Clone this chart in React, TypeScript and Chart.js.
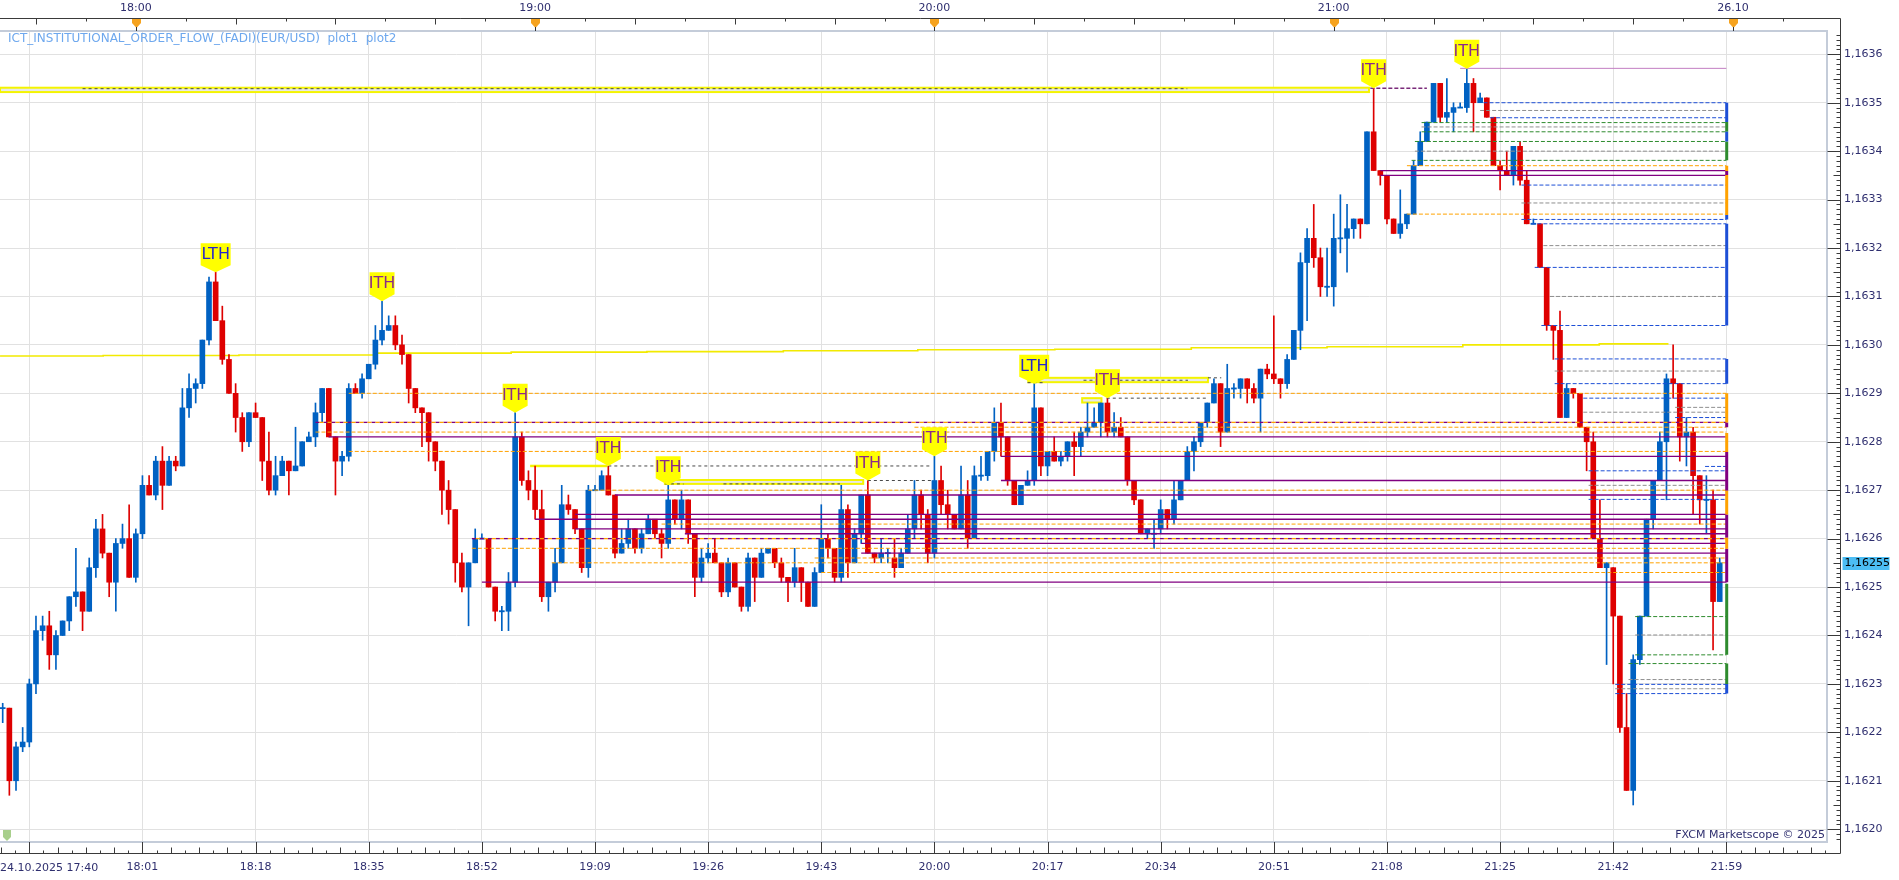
import React, { useEffect, useRef } from 'react';
import { Chart, registerables } from 'chart.js';

Chart.register(...registerables);

// ---------------- DATA ----------------
// EUR/USD 1-minute candles, 24.10.2025 17:40 (index 0) .. 21:58 (index 258)
const opens = [
  1.16225, 1.16225, 1.16210, 1.16217, 1.16218, 1.16230, 1.16241, 1.16242, 1.16236, 1.16240,
  1.16243, 1.16248, 1.16249, 1.16245, 1.16254, 1.16262, 1.16257, 1.16251, 1.16259, 1.16260,
  1.16252, 1.16261, 1.16271, 1.16269, 1.16276, 1.16271, 1.16276, 1.16275, 1.16287, 1.16291,
  1.16292, 1.16301, 1.16313, 1.16305, 1.16297, 1.16290, 1.16285, 1.16280, 1.16286, 1.16285,
  1.16276, 1.16270, 1.16273, 1.16276, 1.16274, 1.16275, 1.16280, 1.16281, 1.16286, 1.16291,
  1.16281, 1.16276, 1.16277, 1.16291, 1.16290, 1.16293, 1.16296, 1.16301, 1.16303, 1.16304,
  1.16300, 1.16298, 1.16291, 1.16287, 1.16286, 1.16280, 1.16276, 1.16270, 1.16266, 1.16255,
  1.16250, 1.16255, 1.16260, 1.16260, 1.16250, 1.16245, 1.16245, 1.16251, 1.16281, 1.16272,
  1.16270, 1.16266, 1.16248, 1.16251, 1.16255, 1.16267, 1.16266, 1.16262, 1.16254, 1.16270,
  1.16270, 1.16273, 1.16269, 1.16257, 1.16259, 1.16262, 1.16258, 1.16261, 1.16264, 1.16261,
  1.16259, 1.16268, 1.16264, 1.16268, 1.16261, 1.16252, 1.16256, 1.16257, 1.16255, 1.16249,
  1.16255, 1.16250, 1.16246, 1.16256, 1.16252, 1.16257, 1.16258, 1.16255, 1.16252, 1.16251,
  1.16254, 1.16251, 1.16246, 1.16253, 1.16260, 1.16258, 1.16252, 1.16266, 1.16255, 1.16261,
  1.16269, 1.16257, 1.16256, 1.16257, 1.16256, 1.16254, 1.16257, 1.16262, 1.16269, 1.16265,
  1.16257, 1.16272, 1.16267, 1.16265, 1.16262, 1.16269, 1.16260, 1.16273, 1.16273, 1.16278,
  1.16284, 1.16281, 1.16272, 1.16267, 1.16271, 1.16272, 1.16287, 1.16275, 1.16278, 1.16276,
  1.16277, 1.16280, 1.16279, 1.16282, 1.16283, 1.16284, 1.16288, 1.16282, 1.16283, 1.16281,
  1.16272, 1.16268, 1.16261, 1.16261, 1.16262, 1.16266, 1.16264, 1.16268, 1.16272, 1.16278,
  1.16280, 1.16284, 1.16288, 1.16292, 1.16282, 1.16291, 1.16291, 1.16293, 1.16291, 1.16289,
  1.16295, 1.16294, 1.16293, 1.16292, 1.16297, 1.16303, 1.16317, 1.16322, 1.16318, 1.16312,
  1.16312, 1.16322, 1.16322, 1.16324, 1.16326, 1.16325, 1.16344, 1.16336, 1.16335, 1.16326,
  1.16323, 1.16325, 1.16327, 1.16337, 1.16342, 1.16346, 1.16354, 1.16347, 1.16348, 1.16349,
  1.16349, 1.16354, 1.16350, 1.16351, 1.16347, 1.16337, 1.16336, 1.16335, 1.16341, 1.16334,
  1.16325, 1.16325, 1.16316, 1.16304, 1.16303, 1.16285, 1.16291, 1.16290, 1.16283, 1.16280,
  1.16260, 1.16254, 1.16254, 1.16244, 1.16221, 1.16208, 1.16235, 1.16244, 1.16264, 1.16272,
  1.16280, 1.16293, 1.16292, 1.16281, 1.16282, 1.16273, 1.16268, 1.16268, 1.16247,
];
const highs = [
  1.16226, 1.16225, 1.16218, 1.16221, 1.16231, 1.16244, 1.16244, 1.16245, 1.16241, 1.16243,
  1.16248, 1.16258, 1.16249, 1.16256, 1.16264, 1.16265, 1.16257, 1.16260, 1.16263, 1.16267,
  1.16262, 1.16273, 1.16273, 1.16277, 1.16279, 1.16277, 1.16277, 1.16291, 1.16294, 1.16293,
  1.16301, 1.16314, 1.16315, 1.16308, 1.16298, 1.16292, 1.16286, 1.16286, 1.16288, 1.16285,
  1.16282, 1.16277, 1.16277, 1.16276, 1.16283, 1.16280, 1.16282, 1.16288, 1.16291, 1.16291,
  1.16281, 1.16278, 1.16292, 1.16292, 1.16294, 1.16296, 1.16304, 1.16309, 1.16306, 1.16306,
  1.16302, 1.16298, 1.16291, 1.16287, 1.16286, 1.16280, 1.16276, 1.16272, 1.16266, 1.16257,
  1.16255, 1.16262, 1.16261, 1.16260, 1.16250, 1.16246, 1.16253, 1.16286, 1.16282, 1.16274,
  1.16275, 1.16270, 1.16251, 1.16258, 1.16271, 1.16269, 1.16266, 1.16262, 1.16271, 1.16271,
  1.16274, 1.16275, 1.16269, 1.16262, 1.16264, 1.16262, 1.16262, 1.16265, 1.16264, 1.16262,
  1.16271, 1.16268, 1.16270, 1.16268, 1.16261, 1.16258, 1.16259, 1.16260, 1.16255, 1.16256,
  1.16255, 1.16250, 1.16257, 1.16256, 1.16258, 1.16258, 1.16258, 1.16256, 1.16252, 1.16258,
  1.16254, 1.16251, 1.16254, 1.16267, 1.16261, 1.16258, 1.16271, 1.16267, 1.16262, 1.16269,
  1.16272, 1.16257, 1.16260, 1.16258, 1.16260, 1.16258, 1.16265, 1.16272, 1.16270, 1.16266,
  1.16277, 1.16275, 1.16270, 1.16265, 1.16275, 1.16272, 1.16275, 1.16277, 1.16278, 1.16287,
  1.16288, 1.16281, 1.16272, 1.16271, 1.16274, 1.16292, 1.16287, 1.16278, 1.16281, 1.16278,
  1.16280, 1.16282, 1.16283, 1.16288, 1.16287, 1.16288, 1.16289, 1.16286, 1.16285, 1.16281,
  1.16272, 1.16268, 1.16262, 1.16264, 1.16268, 1.16266, 1.16272, 1.16272, 1.16279, 1.16281,
  1.16284, 1.16288, 1.16293, 1.16292, 1.16296, 1.16292, 1.16293, 1.16293, 1.16292, 1.16295,
  1.16296, 1.16306, 1.16293, 1.16298, 1.16303, 1.16319, 1.16324, 1.16329, 1.16320, 1.16320,
  1.16327, 1.16331, 1.16329, 1.16326, 1.16326, 1.16344, 1.16353, 1.16336, 1.16335, 1.16326,
  1.16332, 1.16327, 1.16338, 1.16344, 1.16346, 1.16354, 1.16354, 1.16355, 1.16350, 1.16350,
  1.16357, 1.16355, 1.16352, 1.16351, 1.16347, 1.16338, 1.16340, 1.16341, 1.16342, 1.16336,
  1.16326, 1.16325, 1.16316, 1.16304, 1.16307, 1.16292, 1.16291, 1.16290, 1.16283, 1.16282,
  1.16268, 1.16255, 1.16254, 1.16244, 1.16228, 1.16236, 1.16244, 1.16264, 1.16272, 1.16282,
  1.16294, 1.16300, 1.16292, 1.16285, 1.16283, 1.16273, 1.16273, 1.16270, 1.16256,
];
const lows = [
  1.16222, 1.16207, 1.16208, 1.16216, 1.16217, 1.16228, 1.16239, 1.16233, 1.16233, 1.16240,
  1.16241, 1.16246, 1.16241, 1.16245, 1.16252, 1.16256, 1.16248, 1.16245, 1.16258, 1.16252,
  1.16251, 1.16260, 1.16269, 1.16268, 1.16266, 1.16271, 1.16274, 1.16275, 1.16285, 1.16288,
  1.16291, 1.16300, 1.16305, 1.16296, 1.16290, 1.16282, 1.16278, 1.16279, 1.16285, 1.16272,
  1.16269, 1.16269, 1.16273, 1.16269, 1.16274, 1.16275, 1.16280, 1.16279, 1.16284, 1.16281,
  1.16269, 1.16273, 1.16276, 1.16290, 1.16289, 1.16293, 1.16295, 1.16300, 1.16303, 1.16299,
  1.16296, 1.16288, 1.16286, 1.16279, 1.16276, 1.16274, 1.16265, 1.16263, 1.16251, 1.16249,
  1.16242, 1.16255, 1.16260, 1.16250, 1.16243, 1.16241, 1.16241, 1.16250, 1.16271, 1.16268,
  1.16264, 1.16247, 1.16245, 1.16249, 1.16255, 1.16265, 1.16261, 1.16253, 1.16252, 1.16270,
  1.16270, 1.16269, 1.16256, 1.16257, 1.16258, 1.16257, 1.16257, 1.16261, 1.16260, 1.16256,
  1.16258, 1.16263, 1.16262, 1.16259, 1.16248, 1.16251, 1.16255, 1.16255, 1.16248, 1.16248,
  1.16250, 1.16245, 1.16245, 1.16247, 1.16252, 1.16257, 1.16254, 1.16251, 1.16247, 1.16250,
  1.16247, 1.16246, 1.16246, 1.16253, 1.16256, 1.16251, 1.16251, 1.16252, 1.16255, 1.16259,
  1.16257, 1.16255, 1.16255, 1.16255, 1.16252, 1.16254, 1.16257, 1.16260, 1.16262, 1.16255,
  1.16256, 1.16265, 1.16262, 1.16262, 1.16262, 1.16258, 1.16260, 1.16272, 1.16272, 1.16276,
  1.16277, 1.16271, 1.16267, 1.16267, 1.16271, 1.16271, 1.16273, 1.16273, 1.16276, 1.16275,
  1.16276, 1.16273, 1.16277, 1.16281, 1.16283, 1.16281, 1.16281, 1.16281, 1.16281, 1.16271,
  1.16267, 1.16261, 1.16260, 1.16258, 1.16261, 1.16262, 1.16263, 1.16268, 1.16272, 1.16274,
  1.16279, 1.16283, 1.16288, 1.16279, 1.16282, 1.16289, 1.16289, 1.16288, 1.16288, 1.16282,
  1.16293, 1.16292, 1.16289, 1.16291, 1.16297, 1.16299, 1.16305, 1.16316, 1.16310, 1.16310,
  1.16308, 1.16319, 1.16315, 1.16322, 1.16322, 1.16325, 1.16336, 1.16333, 1.16325, 1.16323,
  1.16322, 1.16324, 1.16327, 1.16337, 1.16342, 1.16346, 1.16346, 1.16346, 1.16344, 1.16349,
  1.16348, 1.16344, 1.16350, 1.16347, 1.16337, 1.16332, 1.16335, 1.16333, 1.16333, 1.16325,
  1.16325, 1.16316, 1.16303, 1.16297, 1.16285, 1.16285, 1.16289, 1.16283, 1.16274, 1.16260,
  1.16254, 1.16234, 1.16230, 1.16220, 1.16208, 1.16205, 1.16234, 1.16244, 1.16262, 1.16272,
  1.16268, 1.16289, 1.16276, 1.16275, 1.16265, 1.16263, 1.16261, 1.16237, 1.16247,
];
const closes = [
  1.16225, 1.16210, 1.16217, 1.16218, 1.16230, 1.16241, 1.16242, 1.16236, 1.16240, 1.16243,
  1.16248, 1.16249, 1.16245, 1.16254, 1.16262, 1.16257, 1.16251, 1.16259, 1.16260, 1.16252,
  1.16261, 1.16271, 1.16269, 1.16276, 1.16271, 1.16276, 1.16275, 1.16287, 1.16291, 1.16292,
  1.16301, 1.16313, 1.16305, 1.16297, 1.16290, 1.16285, 1.16280, 1.16286, 1.16285, 1.16276,
  1.16270, 1.16273, 1.16276, 1.16274, 1.16275, 1.16280, 1.16281, 1.16286, 1.16291, 1.16281,
  1.16276, 1.16277, 1.16291, 1.16290, 1.16293, 1.16296, 1.16301, 1.16303, 1.16304, 1.16300,
  1.16298, 1.16291, 1.16287, 1.16286, 1.16280, 1.16276, 1.16270, 1.16266, 1.16255, 1.16250,
  1.16255, 1.16260, 1.16260, 1.16250, 1.16245, 1.16245, 1.16251, 1.16281, 1.16272, 1.16270,
  1.16266, 1.16248, 1.16251, 1.16255, 1.16267, 1.16266, 1.16262, 1.16254, 1.16270, 1.16270,
  1.16273, 1.16269, 1.16257, 1.16259, 1.16262, 1.16258, 1.16261, 1.16264, 1.16261, 1.16259,
  1.16268, 1.16264, 1.16268, 1.16261, 1.16252, 1.16256, 1.16257, 1.16255, 1.16249, 1.16255,
  1.16250, 1.16246, 1.16256, 1.16252, 1.16257, 1.16258, 1.16255, 1.16252, 1.16251, 1.16254,
  1.16251, 1.16246, 1.16253, 1.16260, 1.16258, 1.16252, 1.16266, 1.16255, 1.16261, 1.16269,
  1.16257, 1.16256, 1.16257, 1.16257, 1.16254, 1.16257, 1.16262, 1.16269, 1.16265, 1.16257,
  1.16272, 1.16267, 1.16265, 1.16262, 1.16269, 1.16260, 1.16273, 1.16273, 1.16278, 1.16284,
  1.16281, 1.16272, 1.16267, 1.16271, 1.16272, 1.16287, 1.16275, 1.16278, 1.16276, 1.16277,
  1.16280, 1.16279, 1.16282, 1.16283, 1.16284, 1.16288, 1.16282, 1.16283, 1.16281, 1.16272,
  1.16268, 1.16261, 1.16262, 1.16261, 1.16266, 1.16264, 1.16268, 1.16272, 1.16278, 1.16280,
  1.16284, 1.16288, 1.16292, 1.16282, 1.16291, 1.16291, 1.16293, 1.16291, 1.16289, 1.16295,
  1.16294, 1.16293, 1.16292, 1.16297, 1.16303, 1.16317, 1.16322, 1.16318, 1.16312, 1.16312,
  1.16322, 1.16322, 1.16324, 1.16326, 1.16325, 1.16344, 1.16336, 1.16335, 1.16326, 1.16323,
  1.16325, 1.16327, 1.16337, 1.16342, 1.16346, 1.16354, 1.16347, 1.16348, 1.16349, 1.16349,
  1.16354, 1.16350, 1.16351, 1.16347, 1.16337, 1.16336, 1.16335, 1.16341, 1.16334, 1.16325,
  1.16325, 1.16316, 1.16304, 1.16303, 1.16285, 1.16291, 1.16290, 1.16283, 1.16280, 1.16260,
  1.16254, 1.16255, 1.16244, 1.16221, 1.16208, 1.16235, 1.16244, 1.16264, 1.16272, 1.16280,
  1.16293, 1.16292, 1.16281, 1.16282, 1.16273, 1.16268, 1.16268, 1.16247, 1.16255,
];

// axes
const bottomTickIdx = [4, 21, 38, 55, 72, 89, 106, 123, 140, 157, 174, 191, 208, 225, 242, 259];
const bottomTickLabels = ['', '18:01', '18:18', '18:35', '18:52', '19:09', '19:26', '19:43', '20:00', '20:17', '20:34', '20:51', '21:08', '21:25', '21:42', '21:59'];
const topTickIdx = [20, 80, 140, 200, 260];
const topTickLabels = ['18:00', '19:00', '20:00', '21:00', '26.10'];
const priceTicks = [1.1620, 1.1621, 1.1622, 1.1623, 1.1624, 1.1625, 1.1626, 1.1627, 1.1628, 1.1629, 1.1630, 1.1631, 1.1632, 1.1633, 1.1634, 1.1635, 1.1636];
const startLabel = '24.10.2025 17:40';
const indicatorTitle = 'ICT_INSTITUTIONAL_ORDER_FLOW_(FADI)(EUR/USD)  plot1  plot2';
const copyrightText = 'FXCM Marketscope © 2025';
const lastPrice = 1.16255;
const lastPriceLabel = '1,16255';

// ITH / LTH pivots (candle index)
const pivotIdx = [32, 57, 77, 91, 100, 130, 140, 155, 166, 206, 220];
const pivotKind = ['LTH', 'ITH', 'ITH', 'ITH', 'ITH', 'ITH', 'ITH', 'LTH', 'ITH', 'ITH', 'ITH'];

// levels: last candle index they reach
const LEVEL_END = 259;
// [start candle, price]
const orangeDashedLevels = [
  [52, 1.16290], [47, 1.16282], [137, 1.16283], [52, 1.16278], [88, 1.16270], [99, 1.16263],
  [70.5, 1.16258], [122, 1.16256], [82.5, 1.16255], [123, 1.16253], [211, 1.16337], [211, 1.16327],
];
const purpleSolidLevels = [
  [49, 1.16281], [150, 1.16277], [150, 1.16272], [92, 1.16269], [86, 1.16265], [80, 1.16264],
  [86, 1.16262], [102.5, 1.16261], [129, 1.16259], [129, 1.16257], [72, 1.16251], [207, 1.16336], [207, 1.16335],
];
const purpleDashedLevels = [[47, 1.16284], [70.5, 1.16260]];
const blueDashedLevels = [
  [222.5, 1.16350], [223.5, 1.163469], [228.2, 1.16333], [228.2, 1.163259], [229.7, 1.16325], [230.2, 1.16316],
  [231.2, 1.16304], [233.2, 1.162971], [233.2, 1.16292], [237.5, 1.16289], [251.3, 1.16285], [255.8, 1.162749],
  [238.3, 1.16274], [238.3, 1.162681], [242.3, 1.162299], [242.3, 1.16228],
];
const grayDashedLevels = [
  [222, 1.163484], [213.2, 1.16345], [212.2, 1.16340], [228.2, 1.163293], [231.5, 1.163205], [232.5, 1.16310],
  [233.2, 1.162946], [251.3, 1.162871], [237.5, 1.162861], [238.3, 1.16271], [245.3, 1.162401], [244.3, 1.162309], [242.3, 1.16229],
];
const greenDashedLevels = [
  [213.2, 1.163459], [213.2, 1.16344], [212.2, 1.16342], [211.7, 1.163381], [245.3, 1.162439], [245.3, 1.16236], [244.3, 1.162342],
];
const pinkLevels = [[219, 1.163571]];
// [start, end, price]
const darkDashedSegments = [
  [12, 178, 1.163529], [91, 139.5, 1.16275], [130, 139.5, 1.16272], [99.5, 102.3, 1.162713], [108.3, 125.8, 1.162713],
  [154, 156.6, 1.162922], [162.4, 178.1, 1.162927], [181.1, 183.1, 1.162932], [165.9, 181.1, 1.16289],
];
const purpleDashedSegments = [[205.5, 214, 1.16353]];
// yellow zones [start, end, top price, bottom price]
const yellowZones = [
  [-0.4, 205.3, 1.163531, 1.163522], [79.4, 90.7, 1.1627505, 1.1627495], [99.5, 129.3, 1.162721, 1.162713],
  [154.1, 181.1, 1.162932, 1.162923], [162.2, 165.1, 1.16289, 1.162881],
];
// yellow stepped line
const yellowStepIdx = [-0.4, 15.1, 35.5, 55.9, 76.4, 96.8, 117.3, 137.5, 158.1, 178.6, 199, 219.4, 239.9, 250.3];
const yellowStepPrice = [1.162977, 1.162978, 1.162979, 1.162983, 1.162985, 1.162986, 1.162988, 1.162990, 1.162991, 1.162994, 1.162996, 1.163000, 1.163002, 1.163002];
// right-edge bars [top price, bottom price]
const barsBlue = [[1.16350, 1.16346], [1.16344, 1.16342], [1.163268, 1.163259], [1.16325, 1.16304], [1.162971, 1.16292], [1.1623, 1.16228]];
const barsGreen = [[1.16346, 1.16344], [1.16342, 1.163381], [1.162507, 1.16236], [1.162342, 1.1623]];
const barsOrange = [[1.16337, 1.163359], [1.163351, 1.163268], [1.16290, 1.16284], [1.162818, 1.162779], [1.162699, 1.16265], [1.162602, 1.162579]];
const barsPurple = [[1.163359, 1.163351], [1.16284, 1.16283], [1.162779, 1.162699], [1.16265, 1.162602], [1.162579, 1.16251]];

// ---------------- STYLE ----------------
const FONT = '"DejaVu Sans", sans-serif';
const AXIS_TEXT = '#2f2f6f';
const UP = '#0061c2';
const DOWN = '#de0000';
const ORANGE = '#ffa200';
const PURPLE = '#800080';
const X_MIN = -0.4057;
const X_MAX = 273.97;
const Y_MIN = 1.16197357;
const Y_MAX = 1.16364811;

const overlayPlugin = {
  id: 'fxcmOverlay',
  beforeDraw(chart: any) {
    const { ctx, width, height } = chart;
    ctx.save();
    ctx.fillStyle = '#ffffff';
    ctx.fillRect(0, 0, width, height);
    ctx.restore();
  },
  beforeDatasetsDraw(chart: any) {
    const { ctx, chartArea: ca } = chart;
    const xs = chart.scales.x, ys = chart.scales.y;
    ctx.save();
    ctx.beginPath();
    ctx.rect(ca.left, ca.top, ca.width, ca.height);
    ctx.clip();
    yellowZones.forEach(([a, b, hi, lo]) => {
      const x1 = xs.getPixelForValue(a), x2 = xs.getPixelForValue(b);
      const y1 = ys.getPixelForValue(hi), y2 = ys.getPixelForValue(lo);
      ctx.fillStyle = '#e8e8e8';
      ctx.fillRect(x1, y1, x2 - x1, y2 - y1);
      ctx.strokeStyle = '#f4f400';
      ctx.lineWidth = 2;
      ctx.strokeRect(x1, y1, x2 - x1, y2 - y1);
    });
    ctx.restore();
  },
  afterDatasetsDraw(chart: any) {
    const { ctx, chartArea: ca } = chart;
    const xs = chart.scales.x, ys = chart.scales.y;
    ctx.save();
    // pivot labels
    ctx.font = `16px ${FONT}`;
    ctx.textAlign = 'center';
    ctx.textBaseline = 'middle';
    pivotIdx.forEach((i, k) => {
      const kind = pivotKind[k];
      const cx = xs.getPixelForValue(i);
      const tip = ys.getPixelForValue(highs[i]);
      const w = kind === 'LTH' ? 30 : 25;
      const h = 22, ph = 7;
      ctx.fillStyle = '#ffff00';
      ctx.beginPath();
      ctx.moveTo(cx - w / 2, tip - ph - h);
      ctx.lineTo(cx + w / 2, tip - ph - h);
      ctx.lineTo(cx + w / 2, tip - ph);
      ctx.lineTo(cx, tip);
      ctx.lineTo(cx - w / 2, tip - ph);
      ctx.closePath();
      ctx.fill();
      ctx.fillStyle = kind === 'LTH' ? '#2626cc' : '#8b2a8b';
      ctx.fillText(kind, cx, tip - ph - h / 2 + 1);
    });

    // plot frame
    ctx.strokeStyle = '#c4ccd9';
    ctx.lineWidth = 2;
    ctx.beginPath();
    ctx.moveTo(ca.left, ca.top);
    ctx.lineTo(ca.right + 1, ca.top);
    ctx.lineTo(ca.right + 1, ca.bottom);
    ctx.lineTo(ca.left, ca.bottom);
    ctx.stroke();

    // axis frame
    const axisR = ca.right + 14.5;
    const axisT = 18.5;
    const axisB = ca.bottom + 11.5;
    ctx.strokeStyle = '#3a3a3a';
    ctx.lineWidth = 1;
    ctx.beginPath();
    ctx.moveTo(0, axisT);
    ctx.lineTo(axisR, axisT);
    ctx.lineTo(axisR, axisB);
    ctx.lineTo(0, axisB);
    ctx.stroke();

    // top ticks every 7.5 min
    ctx.beginPath();
    for (let k = -2; k < 60; k++) {
      const i = 20 + 7.5 * k;
      if (i < xs.min || i > xs.max) continue;
      if (k % 8 === 0) continue;
      const px = Math.round(xs.getPixelForValue(i)) + 0.5;
      const len = k % 2 === 0 ? 6 : 3;
      ctx.moveTo(px, axisT);
      ctx.lineTo(px, axisT + len);
    }
    ctx.stroke();
    // hour markers
    topTickIdx.forEach((i) => {
      const cx = Math.round(xs.getPixelForValue(i)) + 0.5;
      ctx.fillStyle = '#f6a31e';
      ctx.beginPath();
      ctx.moveTo(cx - 4.5, 19);
      ctx.lineTo(cx + 4.5, 19);
      ctx.lineTo(cx + 4.5, 23);
      ctx.lineTo(cx, 28);
      ctx.lineTo(cx - 4.5, 23);
      ctx.closePath();
      ctx.fill();
      ctx.strokeStyle = '#333333';
      ctx.beginPath();
      ctx.moveTo(cx, 27);
      ctx.lineTo(cx, ca.top);
      ctx.stroke();
    });

    // bottom ticks
    ctx.strokeStyle = '#3a3a3a';
    ctx.beginPath();
    const step = 17 / 8;
    for (let m = -2; m < 140; m++) {
      const i = 4 + m * step;
      if (i < xs.min || i > xs.max) continue;
      const px = Math.round(xs.getPixelForValue(i)) + 0.5;
      const mm = ((m % 8) + 8) % 8;
      const len = mm === 0 ? 11.5 : mm % 2 === 1 ? 3 : 6;
      ctx.moveTo(px, axisB);
      ctx.lineTo(px, axisB - len);
    }
    ctx.stroke();

    // right ticks every 0.00001
    ctx.beginPath();
    const lo = Math.ceil(ys.min * 1e5 - 1e-6), hi = Math.floor(ys.max * 1e5 + 1e-6);
    for (let v = lo; v <= hi; v++) {
      const py = Math.round(ys.getPixelForValue(v / 1e5)) + 0.5;
      const len = v % 10 === 0 ? 13 : v % 5 === 0 ? 7 : 4;
      ctx.moveTo(axisR - len, py);
      ctx.lineTo(axisR, py);
    }
    ctx.stroke();

    // texts
    ctx.textBaseline = 'middle';
    ctx.textAlign = 'left';
    ctx.font = `12px ${FONT}`;
    ctx.fillStyle = '#6ea8ee';
    ctx.fillText(indicatorTitle, 8, 39);
    ctx.font = `11px ${FONT}`;
    ctx.fillStyle = AXIS_TEXT;
    ctx.textAlign = 'right';
    ctx.fillText(copyrightText, ca.right - 1, 835);
    ctx.textAlign = 'left';
    ctx.fillText(startLabel, 0, 868);

    // current price tag
    const ty = Math.round(ys.getPixelForValue(lastPrice));
    ctx.fillStyle = '#4cbdf4';
    ctx.fillRect(axisR + 2, ty - 6, 47, 13);
    ctx.fillStyle = '#000000';
    ctx.fillText(lastPriceLabel, axisR + 4, ty + 0.5);

    // green start marker
    ctx.fillStyle = '#a8cf8c';
    ctx.beginPath();
    ctx.moveTo(3, 830);
    ctx.lineTo(11, 830);
    ctx.lineTo(11, 837);
    ctx.lineTo(7, 841);
    ctx.lineTo(3, 837);
    ctx.closePath();
    ctx.fill();
    ctx.restore();
  },
};

function seg(a: number, b: number, p: number, color: string, width: number, dash: number[] = [], offset = 0, order = 2) {
  return {
    type: 'line',
    data: [{ x: a, y: p }, { x: b, y: p }],
    borderColor: color,
    borderWidth: width,
    borderDash: dash,
    borderDashOffset: offset,
    pointRadius: 0,
    pointHoverRadius: 0,
    fill: false,
    order,
    xAxisID: 'x',
    yAxisID: 'y',
  };
}
function vbar(p1: number, p2: number, color: string) {
  return {
    type: 'line',
    data: [{ x: LEVEL_END + 0.05, y: p1 }, { x: LEVEL_END + 0.05, y: p2 }],
    borderColor: color,
    borderWidth: 3,
    pointRadius: 0,
    fill: false,
    order: 1,
    xAxisID: 'x',
    yAxisID: 'y',
  };
}

function buildDatasets() {
  const colors = opens.map((o, i) => (closes[i] >= o ? UP : DOWN));
  const ds: any[] = [];
  ds.push({
    type: 'line',
    data: yellowStepIdx.map((x, k) => ({ x, y: yellowStepPrice[k] })),
    stepped: 'before',
    borderColor: '#f2ea00',
    borderWidth: 1.6,
    pointRadius: 0,
    fill: false,
    order: 9,
    xAxisID: 'x',
    yAxisID: 'y',
  });
  ds.push({
    type: 'bar',
    data: opens.map((_, i) => ({ x: i, y: [lows[i], highs[i]] })),
    backgroundColor: colors,
    borderWidth: 0,
    barThickness: 1,
    grouped: false,
    order: 8,
    xAxisID: 'x',
    yAxisID: 'y',
  });
  ds.push({
    type: 'bar',
    data: opens.map((o, i) => {
      const c = closes[i];
      if (Math.abs(c - o) < 0.000004) {
        const m = (c + o) / 2;
        return { x: i, y: [m - 0.0000012, m + 0.0000012] };
      }
      return { x: i, y: [o, c] };
    }),
    backgroundColor: colors,
    borderWidth: 0,
    barThickness: 5,
    grouped: false,
    order: 7,
    xAxisID: 'x',
    yAxisID: 'y',
  });
  orangeDashedLevels.forEach(([s, p]) => ds.push(seg(s, LEVEL_END, p, ORANGE, 1, [4, 2])));
  purpleSolidLevels.forEach(([s, p]) => ds.push(seg(s, LEVEL_END, p, PURPLE, 1.3)));
  purpleDashedLevels.forEach(([s, p]) => {
    ds.push(seg(s, LEVEL_END, p, ORANGE, 1.3, [4, 4], 4));
    ds.push(seg(s, LEVEL_END, p, PURPLE, 1.3, [4, 4], 0));
  });
  blueDashedLevels.forEach(([s, p]) => ds.push(seg(s, LEVEL_END, p, '#1d4fd6', 1, [4, 2])));
  grayDashedLevels.forEach(([s, p]) => ds.push(seg(s, LEVEL_END, p, '#8f8f8f', 1, [4, 2])));
  greenDashedLevels.forEach(([s, p]) => ds.push(seg(s, LEVEL_END, p, '#2e8b2e', 1, [4, 2])));
  pinkLevels.forEach(([s, p]) => ds.push(seg(s, LEVEL_END, p, '#c27ec2', 1)));
  darkDashedSegments.forEach(([a, b, p]) => ds.push(seg(a, b, p, '#4a4a4a', 1, [3, 3])));
  purpleDashedSegments.forEach(([a, b, p]) => ds.push(seg(a, b, p, '#7a2a7a', 1.5, [4, 2])));
  barsBlue.forEach(([a, b]) => ds.push(vbar(a, b, '#1d4fd6')));
  barsGreen.forEach(([a, b]) => ds.push(vbar(a, b, '#2e8b2e')));
  barsOrange.forEach(([a, b]) => ds.push(vbar(a, b, ORANGE)));
  barsPurple.forEach(([a, b]) => ds.push(vbar(a, b, PURPLE)));
  return ds;
}

export default function App() {
  const ref = useRef<HTMLCanvasElement | null>(null);
  useEffect(() => {
    if (!ref.current) return;
    Chart.defaults.font.family = FONT;
    const tickFont = { family: FONT, size: 11 };
    const chart = new Chart(ref.current, {
      type: 'bar',
      data: { datasets: buildDatasets() },
      options: {
        responsive: false,
        animation: false,
        events: [],
        layout: { padding: 0, autoPadding: false },
        plugins: { legend: { display: false }, tooltip: { enabled: false } },
        scales: {
          x: {
            type: 'linear',
            position: 'bottom',
            min: X_MIN,
            max: X_MAX,
            bounds: 'data',
            offset: false,
            grid: { color: '#e1e1e1', drawTicks: false, offset: false },
            border: { display: false },
            afterBuildTicks: (s: any) => { s.ticks = bottomTickIdx.map((v) => ({ value: v })); },
            afterFit: (s: any) => { s.height = 38; },
            ticks: {
              autoSkip: false,
              maxRotation: 0,
              padding: 19,
              color: AXIS_TEXT,
              font: tickFont,
              callback: (v: any) => { const k = bottomTickIdx.indexOf(Number(v)); return k >= 0 ? bottomTickLabels[k] : ''; },
            },
          },
          x2: {
            type: 'linear',
            axis: 'x',
            position: 'top',
            min: X_MIN,
            max: X_MAX,
            bounds: 'data',
            offset: false,
            grid: { display: false, drawTicks: false },
            border: { display: false },
            afterBuildTicks: (s: any) => { s.ticks = topTickIdx.map((v) => ({ value: v })); },
            afterFit: (s: any) => { s.height = 31; },
            ticks: {
              autoSkip: false,
              maxRotation: 0,
              padding: 16,
              color: AXIS_TEXT,
              font: tickFont,
              callback: (v: any) => { const k = topTickIdx.indexOf(Number(v)); return k >= 0 ? topTickLabels[k] : ''; },
            },
          },
          y: {
            type: 'linear',
            position: 'right',
            min: Y_MIN,
            max: Y_MAX,
            bounds: 'data',
            beginAtZero: false,
            grid: { color: '#e1e1e1', drawTicks: false },
            border: { display: false },
            afterBuildTicks: (s: any) => { s.ticks = priceTicks.map((v) => ({ value: v })); },
            afterFit: (s: any) => { s.width = 73; },
            ticks: {
              padding: 18,
              color: AXIS_TEXT,
              font: tickFont,
              callback: (v: any) => Number(v).toFixed(4).replace('.', ','),
            },
          },
        },
      } as any,
      plugins: [overlayPlugin],
    } as any);
    return () => chart.destroy();
  }, []);
  return (
    <div style={{ position: 'fixed', left: 0, top: 0, width: 1899, height: 880, background: '#ffffff' }}>
      <canvas ref={ref} width={1899} height={880} style={{ display: 'block' }} />
    </div>
  );
}
